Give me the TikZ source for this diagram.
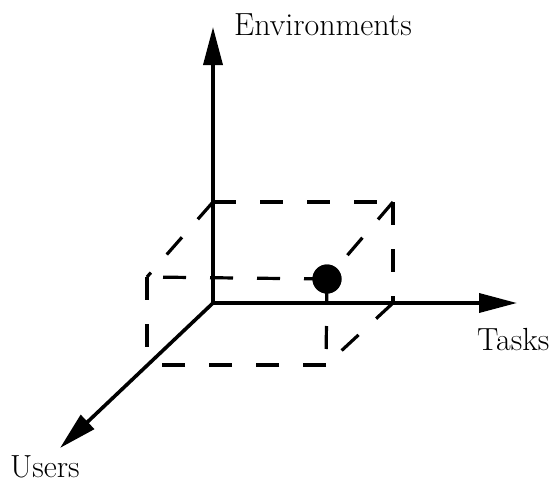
\documentclass[tikz,border=0pt]{standalone}
\usepackage{fontspec}
\usetikzlibrary{arrows.meta}
\begin{document}
\begin{tikzpicture}[x=1pt,y=-1pt,
  axis/.style={line width=3.6pt,-{Triangle[length=38pt,width=19pt]}},
  boxedge/.style={line width=3.2pt,dash pattern=on 23pt off 24pt},
  lbl/.style={font=\fontsize{32}{38}\selectfont,inner sep=0pt,anchor=base west}]
\useasboundingbox (0,0) rectangle (557,482);
% axes
\coordinate (O) at (213,303);
\coordinate (Etip) at (213,27);
\coordinate (Ttip) at (517,303);
\coordinate (Utip) at (60,448);
\draw[axis] (O) -- (Etip);
\draw[axis] (O) -- (Ttip);
\draw[axis] (O) -- (Utip);
% box corners
\coordinate (BTL) at (213,202);
\coordinate (BTR) at (393,202);
\coordinate (BBR) at (393,303);
\coordinate (FTL) at (147,277);
\coordinate (FBL) at (147,365);
\coordinate (FBR) at (326,365);
\node[circle,fill=black,inner sep=0pt,minimum size=29pt] (dot) at (327,279) {};
% dashed box
\draw[boxedge] (BTL) -- (BTR);
\draw[boxedge] (BTR) -- (BBR);
\draw[boxedge] (BTL) -- (FTL);
\draw[boxedge] (dot.center) -- (FTL);
\draw[boxedge] (FTL) -- (FBL);
\draw[boxedge] (FBR) -- (FBL);
\draw[boxedge] (dot.center) -- (FBR);
\draw[boxedge] (BTR) -- (dot.center);
\draw[boxedge] (BBR) -- (FBR);
\node[circle,fill=black,inner sep=0pt,minimum size=29pt] at (dot) {};
% labels
\node[lbl] (env) at (234,35) {Environments};
\node[lbl] (tasks) at (477,350) {Tasks};
\node[lbl] (users) at (10,477) {Users};
\end{tikzpicture}
\end{document}
